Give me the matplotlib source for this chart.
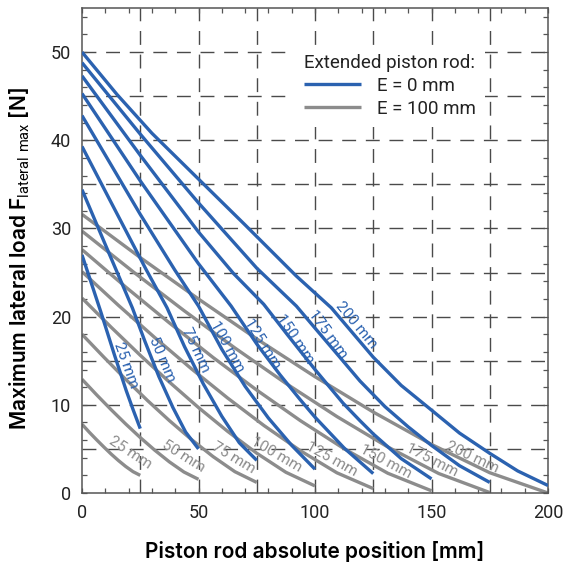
import matplotlib
matplotlib.use('Agg')
import matplotlib.pyplot as plt
from matplotlib.ticker import MultipleLocator

# E = 0 mm (blue), one curve per stroke
x_e0_25 = [0, 8, 14, 19, 22, 25]
y_e0_25 = [27.0, 20.6, 15.6, 11.6, 9.4, 7.3]
x_e0_50 = [0, 10.6, 21.6, 27, 33, 39, 44.5, 50]
y_e0_50 = [34.4, 27.8, 21.0, 17.2, 13.2, 9.7, 6.9, 5.0]
x_e0_75 = [0, 12, 27.6, 36.5, 44, 52, 60, 67.5, 75]
y_e0_75 = [39.3, 33.2, 25.3, 21.0, 16.6, 12.4, 8.7, 5.7, 3.7]
x_e0_100 = [0, 25, 39.8, 50, 60, 70, 80, 90, 100]
y_e0_100 = [42.8, 31.6, 25.3, 21.2, 16.3, 12.1, 8.5, 5.4, 2.7]
x_e0_125 = [0, 25, 50, 64, 75, 85, 93.6, 100, 112.5, 125]
y_e0_125 = [45.3, 35.4, 26.0, 21.2, 16.9, 13.4, 10.6, 8.6, 5.1, 2.2]
x_e0_150 = [0, 25, 50, 65, 78, 88, 100, 112, 119.3, 125, 137, 150]
y_e0_150 = [47.3, 38.3, 29.6, 24.9, 21.4, 18.0, 14.0, 10.2, 8.2, 6.7, 3.9, 1.6]
x_e0_175 = [0, 25, 50, 75, 92, 100, 110, 119.3, 130, 140, 150, 162, 175]
y_e0_175 = [48.8, 40.7, 32.9, 25.5, 21.2, 18.7, 15.6, 12.7, 9.8, 7.5, 5.4, 3.1, 1.2]
x_e0_200 = [0, 15, 30, 50, 70, 92, 107, 116, 125, 137, 150, 162, 175, 187, 200]
y_e0_200 = [50.0, 45.2, 40.8, 35.6, 30.4, 24.6, 21.0, 18.2, 15.4, 12.2, 9.4, 6.8, 4.5, 2.5, 0.85]

# E = 100 mm (gray)
x_e100_25 = [0, 3.1, 6.25, 9.4, 12.5, 15.6, 18.75, 21.9, 25]
y_e100_25 = [7.8, 6.9, 6.04, 5.21, 4.42, 3.69, 3.01, 2.42, 2.0]
x_e100_50 = [0, 6.25, 12.5, 18.75, 25, 31.25, 37.5, 43.75, 50]
y_e100_50 = [12.9, 11.14, 9.45, 7.83, 6.29, 4.85, 3.53, 2.38, 1.55]
x_e100_75 = [0, 9.4, 18.75, 28.1, 37.5, 46.9, 56.25, 65.6, 75]
y_e100_75 = [18.0, 15.4, 12.89, 10.49, 8.21, 6.08, 4.13, 2.42, 1.2]
x_e100_100 = [0, 12.5, 25, 37.5, 50, 62.5, 75, 87.5, 100]
y_e100_100 = [22.1, 18.8, 15.62, 12.58, 9.69, 6.99, 4.51, 2.35, 0.8]
x_e100_125 = [0, 15.6, 31.25, 46.9, 62.5, 78.1, 93.75, 109.4, 125]
y_e100_125 = [25.1, 21.29, 17.62, 14.1, 10.77, 7.65, 4.79, 2.29, 0.5]
x_e100_150 = [0, 18.75, 37.5, 56.25, 75, 93.75, 112.5, 131.25, 150]
y_e100_150 = [27.6, 23.36, 19.29, 15.37, 11.67, 8.2, 5.02, 2.24, 0.25]
x_e100_175 = [0, 21.9, 43.75, 65.6, 87.5, 109.4, 131.25, 153.1, 175]
y_e100_175 = [29.7, 25.1, 20.69, 16.45, 12.43, 8.67, 5.22, 2.21, 0.05]
x_e100_200 = [0, 25, 50, 75, 100, 125, 150, 175, 200]
y_e100_200 = [31.6, 26.7, 22.0, 17.47, 13.19, 9.18, 5.51, 2.3, 0.0]

stroke_labels = ['25 mm', '50 mm', '75 mm', '100 mm', '125 mm', '150 mm', '175 mm', '200 mm']

BLUE = '#2b62b0'
GRAY = '#8c8c8c'
GRID = '#4a4a4a'
AXC = '#555555'
TXT = '#222222'

# label placement (center x, center y, angle)
blue_lab_pos = [(18.7, 14.5, -70), (34.2, 15.1, -67), (48.8, 16.2, -65), (62.5, 16.6, -61),
                (77.4, 16.9, -58), (91.4, 17.5, -56), (105.3, 18.0, -54), (117.5, 19.1, -50)]
gray_lab_pos = [(20.6, 4.6, -33), (43.5, 4.2, -32), (65.2, 4.0, -31), (83.5, 4.3, -30),
                (107.2, 3.8, -29), (130.3, 3.6, -28), (150.1, 3.7, -27), (167.5, 4.1, -25)]

plt.rcParams['font.family'] = 'Roboto'
plt.rcParams['mathtext.fontset'] = 'custom'
plt.rcParams['mathtext.rm'] = 'Roboto'

blue_curves = [(x_e0_25, y_e0_25), (x_e0_50, y_e0_50), (x_e0_75, y_e0_75), (x_e0_100, y_e0_100),
               (x_e0_125, y_e0_125), (x_e0_150, y_e0_150), (x_e0_175, y_e0_175), (x_e0_200, y_e0_200)]
gray_curves = [(x_e100_25, y_e100_25), (x_e100_50, y_e100_50), (x_e100_75, y_e100_75),
               (x_e100_100, y_e100_100), (x_e100_125, y_e100_125), (x_e100_150, y_e100_150),
               (x_e100_175, y_e100_175), (x_e100_200, y_e100_200)]

fig = plt.figure(figsize=(5.65, 5.74), dpi=100)
ax = fig.add_axes([82 / 565, 81 / 574, 466 / 565, 485 / 574])

for i, (xs, ys) in enumerate(blue_curves):
    ax.plot(xs, ys, color=BLUE, lw=2.4, solid_joinstyle='round', solid_capstyle='butt',
            zorder=3, label='E = 0 mm' if i == 0 else None)
for i, (xs, ys) in enumerate(gray_curves):
    ax.plot(xs, ys, color=GRAY, lw=2.4, solid_joinstyle='round', solid_capstyle='butt',
            zorder=2, label='E = 100 mm' if i == 0 else None)

for (lx, ly, ang), txt in zip(blue_lab_pos, stroke_labels):
    ax.text(lx, ly, txt, rotation=ang, rotation_mode='anchor', ha='center', va='center',
            color=BLUE, fontsize=11, zorder=4)
for (lx, ly, ang), txt in zip(gray_lab_pos, stroke_labels):
    ax.text(lx, ly, txt, rotation=ang, rotation_mode='anchor', ha='center', va='center',
            color=GRAY, fontsize=11, zorder=4)

# dashed grid
for gx in range(25, 200, 25):
    ax.axvline(gx, color=GRID, lw=1.0, ls=(0, (10, 7)), zorder=1)
for gy in range(5, 55, 5):
    ax.axhline(gy, color=GRID, lw=1.0, ls=(0, (10, 7)), zorder=1)

ax.set_xlim(0, 200)
ax.set_ylim(0, 55)
ax.xaxis.set_major_locator(MultipleLocator(50))
ax.xaxis.set_minor_locator(MultipleLocator(10))
ax.yaxis.set_major_locator(MultipleLocator(10))
ax.yaxis.set_minor_locator(MultipleLocator(2))
ax.tick_params(which='both', direction='in', top=True, right=True, length=3.6, width=0.9,
               color=AXC, labelsize=13, labelcolor=TXT, pad=8)
for sp in ax.spines.values():
    sp.set_color(AXC)
    sp.set_linewidth(1.1)

ax.set_xlabel('Piston rod absolute position [mm]', fontfamily='Inter', fontweight='semibold',
              fontsize=15, color='black')
ax.set_ylabel(r'Maximum lateral load F$_\mathrm{lateral\ max}$ [N]', fontfamily='Inter',
              fontweight='semibold', fontsize=15, color='black')
ax.xaxis.set_label_coords(0.5, -0.1)
ax.yaxis.set_label_coords(-0.108, 0.484)

leg = ax.legend(loc='upper left', bbox_to_anchor=(0.457, 0.924), title='Extended piston rod:',
                alignment='left', frameon=True, fancybox=False, edgecolor='none',
                facecolor='white', framealpha=1, fontsize=13.5, title_fontsize=13.5,
                handlelength=3.0, handletextpad=0.85, labelspacing=0.25, borderpad=0.5,
                borderaxespad=0)
for t in leg.get_texts():
    t.set_color(TXT)
leg.get_title().set_color(TXT)
leg.set_zorder(5)

fig.savefig('out.png', dpi=100)
